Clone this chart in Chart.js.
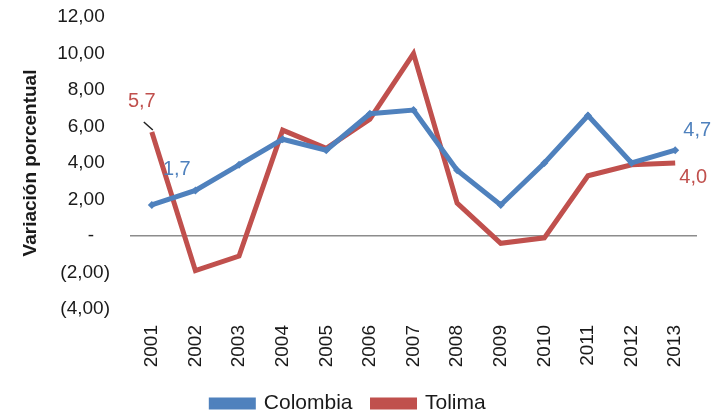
<!DOCTYPE html>
<html>
<head>
<meta charset="utf-8">
<script src="https://cdn.jsdelivr.net/npm/chart.js@4.4.1/dist/chart.umd.min.js"></script>
<style>
  html, body { margin: 0; padding: 0; background: #fff; }
  #wrap { width: 722px; height: 416px; }
</style>
</head>
<body>
<div id="wrap"><canvas id="chart" width="722" height="416"></canvas></div>
<script>
// data
var years = ["2001", "2002", "2003", "2004", "2005", "2006", "2007", "2008", "2009", "2010", "2011", "2012", "2013"];
var colombia = [1.7, 2.5, 3.9, 5.3, 4.7, 6.7, 6.9, 3.6, 1.7, 4.0, 6.6, 4.0, 4.7];
var tolima = [5.7, -1.9, -1.1, 5.8, 4.8, 6.4, 10.0, 1.8, -0.4, -0.1, 3.3, 3.9, 4.0];
var yTicks = [-4, -2, 0, 2, 4, 6, 8, 10, 12];

var blue = '#4F81BD';
var red = '#C0504D';
var font = 'Liberation Sans, Arial, sans-serif';

function fmt(v) {
    if (v === 0) return '-   ';
    var s = Math.abs(v).toFixed(2).replace('.', ',');
    return v < 0 ? '(' + s + ')' : s + ' ';
}

// end labels drawn next to first / last points
var pointLabels = {
    id: 'pointLabels',
    afterDatasetsDraw: function(chart) {
        var ctx = chart.ctx;
        var items = [
            { ds: 0, i: 0, dx: 25, dy: -35, color: blue },
            { ds: 0, i: 12, dx: 22, dy: -20, color: blue },
            { ds: 1, i: 0, dx: -10, dy: -30, color: red, leader: true },
            { ds: 1, i: 12, dx: 18, dy: 14, color: red }
        ];
        ctx.save();
        ctx.font = '20px ' + font;
        ctx.textAlign = 'center';
        ctx.textBaseline = 'middle';
        items.forEach(function(it) {
            var pt = chart.getDatasetMeta(it.ds).data[it.i];
            var v = chart.data.datasets[it.ds].data[it.i];
            if (it.leader) {
                ctx.strokeStyle = '#222';
                ctx.lineWidth = 1.5;
                ctx.beginPath();
                ctx.moveTo(pt.x - 8, pt.y - 10);
                ctx.lineTo(pt.x + 1, pt.y - 2);
                ctx.stroke();
            }
            ctx.fillStyle = it.color;
            ctx.fillText(v.toFixed(1).replace('.', ','), pt.x + it.dx, pt.y + it.dy);
        });
        ctx.restore();
    }
};

new Chart(document.getElementById('chart'), {
    type: 'line',
    data: {
        labels: years,
        datasets: [{
            label: 'Colombia',
            data: colombia,
            borderColor: blue,
            backgroundColor: blue,
            borderWidth: 5,
            pointStyle: 'rectRot',
            pointRadius: 4,
            pointBackgroundColor: blue,
            pointBorderWidth: 0,
            tension: 0
        }, {
            label: 'Tolima',
            data: tolima,
            borderColor: red,
            backgroundColor: red,
            borderWidth: 5,
            pointRadius: 0,
            tension: 0
        }]
    },
    options: {
        responsive: false,
        animation: false,
        layout: { padding: { left: 0, right: 25, top: 17, bottom: -8 } },
        plugins: {
            legend: {
                position: 'bottom',
                labels: {
                    font: { family: font, size: 21 },
                    color: '#1a1a1a',
                    boxWidth: 42,
                    boxHeight: 7,
                    padding: 20
                }
            },
            tooltip: { enabled: false }
        },
        scales: {
            x: {
                offset: true,
                afterFit: function(scale) { scale.height = 64; },
                grid: { display: false, drawTicks: false },
                border: { display: false },
                ticks: {
                    minRotation: 90,
                    maxRotation: 90,
                    padding: 16,
                    color: '#1a1a1a',
                    font: { family: font, size: 19 }
                }
            },
            y: {
                min: -4,
                max: 12,
                afterBuildTicks: function(scale) {
                    scale.ticks = yTicks.map(function(v) { return { value: v }; });
                },
                afterFit: function(scale) {
                    scale.width = 130;
                    scale.paddingTop = 0;
                    scale.paddingBottom = 0;
                },
                grid: {
                    drawTicks: false,
                    color: function(c) { return c.tick && c.tick.value === 0 ? '#8c8c8c' : 'rgba(0,0,0,0)'; },
                    lineWidth: 1.5
                },
                border: { display: false },
                title: {
                    display: true,
                    text: 'Variación porcentual',
                    color: '#1a1a1a',
                    font: { family: font, size: 19, weight: 'bold' },
                    padding: { top: 19, bottom: 0 }
                },
                ticks: {
                    padding: 20,
                    color: '#1a1a1a',
                    font: { family: font, size: 19 },
                    callback: function(v) { return fmt(v); }
                }
            }
        }
    },
    plugins: [pointLabels]
});
</script>
</body>
</html>
